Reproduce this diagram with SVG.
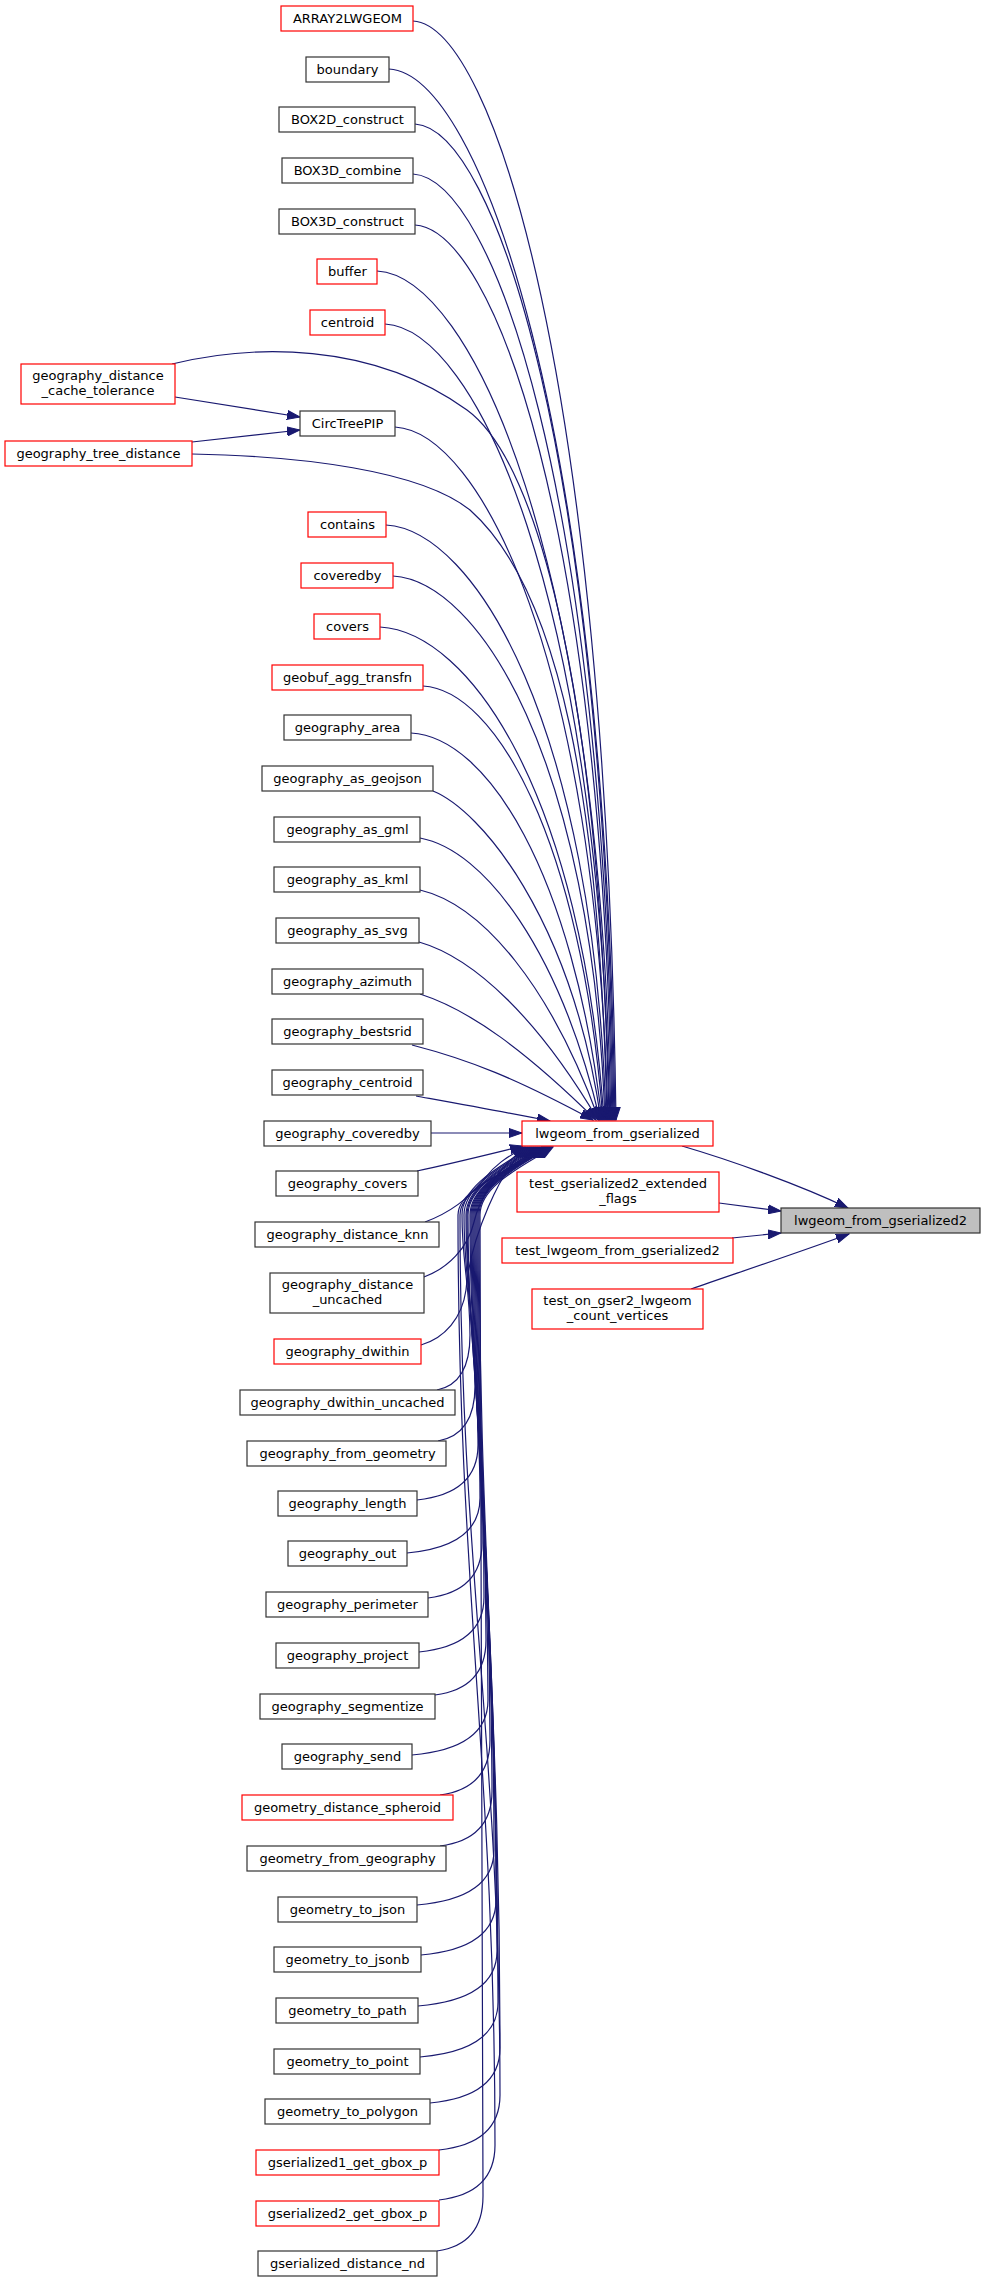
<svg xmlns="http://www.w3.org/2000/svg" width="985" height="2283" viewBox="0 0 985 2283">
<style>
.n rect{fill:#fff;stroke-width:1.2}
.r rect{stroke:#ff0000}
.k rect{stroke:#333333}
.g rect{fill:#bfbfbf;stroke:#333333}
text{font-family:"DejaVu Sans","Liberation Sans",sans-serif;font-size:13px;fill:#000;text-anchor:middle}
.e path{fill:none;stroke:#191970;stroke-width:1.2;marker-end:url(#a)}
</style>
<defs>
<marker id="a" markerUnits="userSpaceOnUse" markerWidth="14" markerHeight="10" refX="13" refY="5" orient="auto" viewBox="0 0 14 10">
<path d="M0,0.5 L13,5 L0,9.5 z" fill="#191970" stroke="#191970" stroke-width="1"/>
</marker>
</defs>
<rect width="985" height="2283" fill="#fff"/>
<g id="edges" class="e">
<path d="M413,21 C494,26 606,384 616,1120"/>
<path d="M389,69 C479,74 605,419 615,1120"/>
<path d="M415,124 C495,129 604,456 614,1120"/>
<path d="M413,174 C493,179 603,489 613,1120"/>
<path d="M415,225 C494,230 602,523 612,1120"/>
<path d="M377,271 C471,276 600,554 611,1120"/>
<path d="M385,324 C475,329 598,589 610,1120"/>
<path d="M172,364 C250,345 370,340 467,410 C540,463 600,700 609,1120"/>
<path d="M395,427 C480,432 596,658 608,1120"/>
<path d="M192,454 C300,456 420,470 470,510 C560,590 600,800 607,1120"/>
<path d="M386,525 C474,530 594,723 606,1120"/>
<path d="M393,576 C478,581 592,757 605,1120"/>
<path d="M380,627 C470,632 582,795 604,1120"/>
<path d="M423,686 C495,690 581,838 603,1120"/>
<path d="M411,733 C487,737 573,872 602,1120"/>
<path d="M433,791 C480,810 571,916 601,1120"/>
<path d="M420,838 C485,850 560,951 600,1120"/>
<path d="M420,890 C483,905 551,987 599,1120"/>
<path d="M419,942 C475,958 539,1020 598,1120"/>
<path d="M420,994 C470,1010 526,1051 596,1120"/>
<path d="M412,1045 C470,1060 515,1078 593,1120"/>
<path d="M416,1096 C460,1104 510,1113 550,1121"/>
<path d="M431,1133 L522,1133"/>
<path d="M417,1171 C450,1164 490,1154 523,1146"/>
<path d="M425,1222 C452,1212 472,1195 485,1178 C494,1166 505,1158 525,1147"/>
<path d="M424,1277 C448,1268 468,1248 474,1222 C479,1200 499,1165 527,1147"/>
<path d="M421,1345 C445,1338 462,1318 466,1290 C470,1240 501,1165 529,1147"/>
<path d="M437,1390 C457,1386 470,1370 470,1335 C470,1287 462,1263 462,1215 C462,1185 503,1165 531,1147"/>
<path d="M438,1441 C460,1437 475,1421 475,1386 C475,1318 464,1283 464,1215 C464,1185 505,1165 533,1147"/>
<path d="M417,1500 C454,1496 478,1480 478,1445 C478,1353 466,1307 466,1215 C466,1185 507,1165 535,1147"/>
<path d="M407,1553 C451,1549 480,1533 480,1498 C480,1385 467,1328 467,1215 C467,1185 509,1165 537,1147"/>
<path d="M428,1598 C460,1594 482,1578 482,1543 C482,1412 468,1346 468,1215 C468,1185 511,1165 539,1147"/>
<path d="M419,1652 C458,1648 484,1632 484,1597 C484,1444 470,1368 470,1215 C470,1185 513,1165 541,1147"/>
<path d="M435,1695 C466,1691 486,1675 486,1640 C486,1470 471,1385 471,1215 C471,1185 514,1165 542,1147"/>
<path d="M412,1755 C458,1751 488,1735 488,1700 C488,1506 472,1409 472,1215 C472,1185 515,1165 543,1147"/>
<path d="M440,1795 C470,1791 490,1775 490,1740 C490,1530 473,1425 473,1215 C473,1185 516,1165 544,1147"/>
<path d="M440,1846 C471,1842 492,1826 492,1791 C492,1561 474,1445 474,1215 C474,1185 517,1165 545,1147"/>
<path d="M417,1905 C463,1901 494,1885 494,1850 C494,1596 475,1469 475,1215 C475,1185 518,1165 546,1147"/>
<path d="M421,1955 C466,1951 496,1935 496,1900 C496,1626 476,1489 476,1215 C476,1185 519,1165 547,1147"/>
<path d="M418,2006 C465,2002 497,1986 497,1951 C497,1657 477,1509 477,1215 C477,1185 520,1165 548,1147"/>
<path d="M420,2057 C467,2053 498,2037 498,2002 C498,1687 478,1530 478,1215 C478,1185 521,1165 549,1147"/>
<path d="M430,2103 C472,2099 500,2083 500,2048 C500,1715 479,1548 479,1215 C479,1185 522,1165 550,1147"/>
<path d="M439,2150 C476,2146 500,2130 500,2095 C500,1743 460,1567 460,1215 C460,1185 523,1165 551,1147"/>
<path d="M439,2200 C473,2196 495,2180 495,2145 C495,1773 458,1587 458,1215 C458,1185 524,1165 552,1147"/>
<path d="M437,2251 C465,2247 483,2231 483,2196 C483,1804 480,1607 480,1215 C480,1185 525,1165 553,1147"/>
<path d="M175,397 L300,417"/>
<path d="M192,442 L300,430"/>
<path d="M682,1146 C730,1160 800,1185 848,1208"/>
<path d="M719,1203 L781,1211"/>
<path d="M732,1238 L781,1233"/>
<path d="M691,1289 C740,1272 800,1252 849,1234"/>
</g>
<g id="n1" class="n r"><rect x="281" y="6" width="132" height="25"/><text x="347.5" y="23">ARRAY2LWGEOM</text></g>
<g id="n2" class="n k"><rect x="306" y="57" width="83" height="25"/><text x="347.5" y="74">boundary</text></g>
<g id="n3" class="n k"><rect x="279" y="107" width="136" height="25"/><text x="347.5" y="124">BOX2D_construct</text></g>
<g id="n4" class="n k"><rect x="282" y="158" width="131" height="25"/><text x="347.5" y="175">BOX3D_combine</text></g>
<g id="n5" class="n k"><rect x="279" y="209" width="136" height="25"/><text x="347.5" y="226">BOX3D_construct</text></g>
<g id="n6" class="n r"><rect x="317" y="259" width="60" height="25"/><text x="347.5" y="276">buffer</text></g>
<g id="n7" class="n r"><rect x="310" y="310" width="75" height="25"/><text x="347.5" y="327">centroid</text></g>
<g id="n8" class="n k"><rect x="300" y="411" width="95" height="25"/><text x="347.5" y="428">CircTreePIP</text></g>
<g id="n9" class="n r"><rect x="308" y="512" width="78" height="25"/><text x="347.5" y="529">contains</text></g>
<g id="n10" class="n r"><rect x="301" y="563" width="92" height="25"/><text x="347.5" y="580">coveredby</text></g>
<g id="n11" class="n r"><rect x="314" y="614" width="66" height="25"/><text x="347.5" y="631">covers</text></g>
<g id="n12" class="n r"><rect x="272" y="665" width="151" height="25"/><text x="347.5" y="682">geobuf_agg_transfn</text></g>
<g id="n13" class="n k"><rect x="284" y="715" width="127" height="25"/><text x="347.5" y="732">geography_area</text></g>
<g id="n14" class="n k"><rect x="262" y="766" width="171" height="25"/><text x="347.5" y="783">geography_as_geojson</text></g>
<g id="n15" class="n k"><rect x="274" y="817" width="146" height="25"/><text x="347.5" y="834">geography_as_gml</text></g>
<g id="n16" class="n k"><rect x="274" y="867" width="146" height="25"/><text x="347.5" y="884">geography_as_kml</text></g>
<g id="n17" class="n k"><rect x="276" y="918" width="143" height="25"/><text x="347.5" y="935">geography_as_svg</text></g>
<g id="n18" class="n k"><rect x="272" y="969" width="151" height="25"/><text x="347.5" y="986">geography_azimuth</text></g>
<g id="n19" class="n k"><rect x="272" y="1019" width="151" height="25"/><text x="347.5" y="1036">geography_bestsrid</text></g>
<g id="n20" class="n k"><rect x="272" y="1070" width="151" height="25"/><text x="347.5" y="1087">geography_centroid</text></g>
<g id="n21" class="n k"><rect x="264" y="1121" width="167" height="25"/><text x="347.5" y="1138">geography_coveredby</text></g>
<g id="n22" class="n k"><rect x="276" y="1171" width="142" height="25"/><text x="347.5" y="1188">geography_covers</text></g>
<g id="n23" class="n k"><rect x="255" y="1222" width="184" height="25"/><text x="347.5" y="1239">geography_distance_knn</text></g>
<g id="n24" class="n k"><rect x="270" y="1273" width="154" height="40"/><text x="347.5" y="1289">geography_distance</text><text x="347.5" y="1304">_uncached</text></g>
<g id="n25" class="n r"><rect x="274" y="1339" width="147" height="25"/><text x="347.5" y="1356">geography_dwithin</text></g>
<g id="n26" class="n k"><rect x="240" y="1390" width="215" height="25"/><text x="347.5" y="1407">geography_dwithin_uncached</text></g>
<g id="n27" class="n k"><rect x="247" y="1441" width="199" height="25"/><text x="347.5" y="1458">geography_from_geometry</text></g>
<g id="n28" class="n k"><rect x="278" y="1491" width="139" height="25"/><text x="347.5" y="1508">geography_length</text></g>
<g id="n29" class="n k"><rect x="288" y="1541" width="119" height="25"/><text x="347.5" y="1558">geography_out</text></g>
<g id="n30" class="n k"><rect x="266" y="1592" width="162" height="25"/><text x="347.5" y="1609">geography_perimeter</text></g>
<g id="n31" class="n k"><rect x="276" y="1643" width="143" height="25"/><text x="347.5" y="1660">geography_project</text></g>
<g id="n32" class="n k"><rect x="260" y="1694" width="175" height="25"/><text x="347.5" y="1711">geography_segmentize</text></g>
<g id="n33" class="n k"><rect x="282" y="1744" width="130" height="25"/><text x="347.5" y="1761">geography_send</text></g>
<g id="n34" class="n r"><rect x="242" y="1795" width="211" height="25"/><text x="347.5" y="1812">geometry_distance_spheroid</text></g>
<g id="n35" class="n k"><rect x="247" y="1846" width="199" height="25"/><text x="347.5" y="1863">geometry_from_geography</text></g>
<g id="n36" class="n k"><rect x="278" y="1897" width="139" height="25"/><text x="347.5" y="1914">geometry_to_json</text></g>
<g id="n37" class="n k"><rect x="274" y="1947" width="147" height="25"/><text x="347.5" y="1964">geometry_to_jsonb</text></g>
<g id="n38" class="n k"><rect x="276" y="1998" width="142" height="25"/><text x="347.5" y="2015">geometry_to_path</text></g>
<g id="n39" class="n k"><rect x="274" y="2049" width="146" height="25"/><text x="347.5" y="2066">geometry_to_point</text></g>
<g id="n40" class="n k"><rect x="265" y="2099" width="165" height="25"/><text x="347.5" y="2116">geometry_to_polygon</text></g>
<g id="n41" class="n r"><rect x="256" y="2150" width="183" height="25"/><text x="347.5" y="2167">gserialized1_get_gbox_p</text></g>
<g id="n42" class="n r"><rect x="256" y="2201" width="183" height="25"/><text x="347.5" y="2218">gserialized2_get_gbox_p</text></g>
<g id="n43" class="n k"><rect x="258" y="2251" width="179" height="25"/><text x="347.5" y="2268">gserialized_distance_nd</text></g>
<g id="n44" class="n r"><rect x="21" y="364" width="154" height="40"/><text x="98" y="380">geography_distance</text><text x="98" y="395">_cache_tolerance</text></g>
<g id="n45" class="n r"><rect x="5" y="441" width="187" height="25"/><text x="98.5" y="458">geography_tree_distance</text></g>
<g id="n46" class="n r"><rect x="522" y="1121" width="191" height="25"/><text x="617.5" y="1138">lwgeom_from_gserialized</text></g>
<g id="n47" class="n r"><rect x="517" y="1172" width="202" height="40"/><text x="618" y="1188">test_gserialized2_extended</text><text x="618" y="1203">_flags</text></g>
<g id="n48" class="n r"><rect x="502" y="1238" width="231" height="25"/><text x="617.5" y="1255">test_lwgeom_from_gserialized2</text></g>
<g id="n49" class="n r"><rect x="532" y="1289" width="171" height="40"/><text x="617.5" y="1305">test_on_gser2_lwgeom</text><text x="617.5" y="1320">_count_vertices</text></g>
<g id="n50" class="n g"><rect x="781" y="1208" width="199" height="25"/><text x="880.5" y="1225">lwgeom_from_gserialized2</text></g>
</svg>
